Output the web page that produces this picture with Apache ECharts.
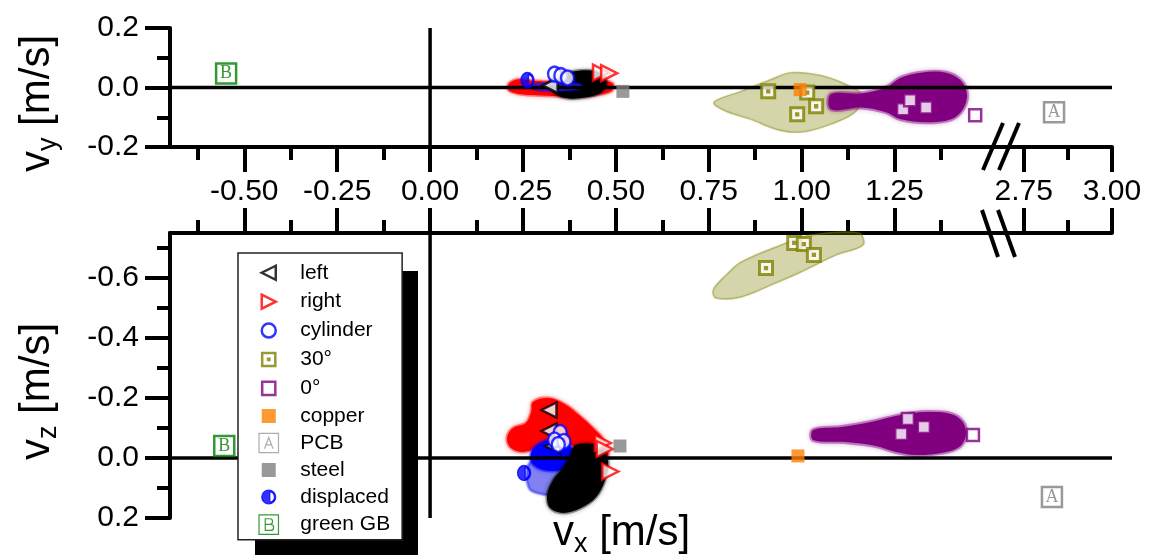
<!DOCTYPE html>
<html>
<head>
<meta charset="utf-8">
<script src="https://cdn.jsdelivr.net/npm/echarts@6/dist/echarts.min.js"></script>
<style>
  html, body { margin: 0; background: #fff; }
  #chart { width: 1159px; height: 558px; }
</style>
</head>
<body>
<div id="chart"></div>
<script>
// ticks
const xMajorLeft = [-0.5, -0.25, 0, 0.25, 0.5, 0.75, 1.0, 1.25];
const xMinorLeft = [-0.625, -0.375, -0.125, 0.125, 0.375, 0.625, 0.875, 1.125, 1.375];
const xMajorRight = [2.75, 3.0];
const xMinorRight = [2.875];
const vyMajor = [-0.2, 0, 0.2];
const vyMinor = [-0.1, 0.1];
const vzMajor = [-0.6, -0.4, -0.2, 0, 0.2];
const vzMinor = [-0.7, -0.5, -0.3, -0.1, 0.1];

// markers, top panel [vx, vy]
const leftVy = [[0.323, 0.007]];
const rightVy = [[0.46, 0.05], [0.482, 0.048]];
const cylinderVy = [[0.335, 0.045], [0.352, 0.04], [0.37, 0.032]];
const deg30Vy = [[0.91, -0.013], [1.015, -0.017], [1.039, -0.063], [0.988, -0.09]];
const deg0Vy = [[1.273, -0.073], [1.292, -0.043], [1.335, -0.067], [1.467, -0.093]];
const copperVy = [[0.996, -0.007]];
const pcbVy = [[2.836, -0.083]];
const steelVy = [[0.519, -0.013]];
const displacedVy = [[0.262, 0.025]];
const greenVy = [[-0.549, 0.047]];

// markers, bottom panel [vx, vz]
const leftVz = [[0.32, -0.16], [0.32, -0.09], [0.33, -0.04]];
const rightVz = [[0.465, -0.05], [0.47, -0.03], [0.485, 0.045]];
const cylinderVz = [[0.35, -0.085], [0.335, -0.06], [0.36, -0.055], [0.345, -0.045]];
const deg30Vz = [[0.98, -0.717], [1.006, -0.713], [1.033, -0.677], [0.904, -0.633]];
const deg0Vz = [[1.286, -0.13], [1.329, -0.103], [1.268, -0.08], [1.461, -0.077]];
const copperVz = [[0.99, -0.007]];
const pcbVz = [[2.83, 0.13]];
const steelVz = [[0.511, -0.04]];
const displacedVz = [[0.253, 0.05]];
const greenVz = [[-0.554, -0.04]];

// measurement clouds (outlines), top panel
const oliveCloudVy = [[0.764, -0.05], [0.837, -0.013], [0.918, 0.027], [0.971, 0.05], [1.052, 0.04], [1.119, 0.01], [1.16, -0.023],
  [1.146, -0.08], [1.079, -0.123], [0.998, -0.15], [0.931, -0.14], [0.864, -0.107], [0.797, -0.08]];
const purpleCloudVy = [[1.079, -0.023], [1.16, -0.02], [1.227, 0], [1.267, 0.033], [1.321, 0.05], [1.389, 0.05], [1.429, 0.023],
  [1.445, -0.023], [1.434, -0.073], [1.402, -0.107], [1.335, -0.117], [1.267, -0.107], [1.227, -0.083], [1.16, -0.067], [1.079, -0.073]];
const redCloudVy = [[0.212, 0.013], [0.235, 0.027], [0.258, 0.025], [0.312, 0.02], [0.379, 0.022], [0.447, 0.027], [0.492, 0.013],
  [0.487, -0.013], [0.433, -0.027], [0.366, -0.03], [0.299, -0.027], [0.245, -0.023], [0.212, -0.01]];
const blackCloudVy = [[0.32, 0.013], [0.342, 0.04], [0.379, 0.053], [0.433, 0.057], [0.468, 0.04], [0.474, 0.007],
  [0.455, -0.02], [0.42, -0.033], [0.374, -0.037], [0.339, -0.023]];
const blueCloudVy = [[0.272, 0.01], [0.339, 0.017], [0.401, 0.013], [0.412, 0], [0.379, -0.01], [0.312, -0.012], [0.27, -0.003]];

// measurement clouds (outlines), bottom panel
const oliveCloudVz = [[0.762, -0.56], [0.797, -0.61], [0.837, -0.653], [0.945, -0.71], [1.025, -0.743], [1.154, -0.75], [1.165, -0.71],
  [1.093, -0.677], [0.998, -0.62], [0.918, -0.577], [0.837, -0.537], [0.77, -0.533]];
const purpleCloudVz = [[1.031, -0.093], [1.106, -0.103], [1.187, -0.12], [1.267, -0.143], [1.335, -0.153], [1.402, -0.147], [1.434, -0.12],
  [1.442, -0.077], [1.424, -0.037], [1.375, -0.017], [1.308, -0.01], [1.254, -0.02], [1.2, -0.04], [1.119, -0.053], [1.031, -0.06]];
const redCloudVz = [[0.277, -0.187], [0.32, -0.2], [0.366, -0.177], [0.401, -0.143], [0.439, -0.1], [0.468, -0.06], [0.479, -0.01],
  [0.452, 0], [0.42, -0.02], [0.379, -0.043], [0.339, -0.06], [0.312, -0.053], [0.285, -0.033], [0.25, -0.02], [0.218, -0.033],
  [0.207, -0.067], [0.223, -0.1], [0.258, -0.117], [0.272, -0.153]];
const blueCloudVz = [[0.285, -0.04], [0.318, -0.06], [0.358, -0.053], [0.385, -0.027], [0.385, 0.017], [0.353, 0.04],
  [0.304, 0.04], [0.274, 0.017], [0.272, -0.017]];
const blueLightCloudVz = [[0.272, 0.013], [0.393, 0.007], [0.385, 0.073], [0.366, 0.123], [0.312, 0.123], [0.266, 0.1]];
const blackCloudVz = [[0.393, -0.043], [0.46, -0.037], [0.479, 0.013], [0.471, 0.073], [0.447, 0.13], [0.406, 0.167],
  [0.358, 0.183], [0.323, 0.167], [0.315, 0.123], [0.331, 0.073], [0.353, 0.04], [0.374, 0]];

const FONT = 'Liberation Sans, Arial, sans-serif';
const BLACK = '#000';

const triLeft = 'M10,0L0,5L10,10Z';
const triRight = 'M0,0L10,5L0,10Z';
const circ = 'M5,0A5,5 0 1,1 5,10A5,5 0 1,1 5,0Z';
const sq = 'M0,0H10V10H0Z';
const sqDot = 'M0,0H10V10H0Z M4.5,4.5H5.5V5.5H4.5Z';
const halfCirc = 'M5,0A5,5 0 1,1 5,10A5,5 0 1,1 5,0Z M5.8,1.4L5.8,8.6A3.3,3.6 0 0,0 5.8,1.4Z';
const sqA = 'M0,0H10V10H0Z M2.8,8L5,2.2L7.2,8 M3.6,6H6.4';
const sqB = 'M0,0H10V10H0Z M3.2,2H5.6C7.4,2 7.4,4.9 5.6,4.9H3.2Z M3.2,4.9H6C8,4.9 8,8 6,8H3.2Z';

function icon(p, s) {
  return 'path://M' + (-s) + ',' + (-s) + 'M' + (10 + s) + ',' + (10 + s) + p;
}

const looks = {
  left: { symbol: 'path://' + triLeft, symbolSize: 15, itemStyle: { color: '#fff', borderColor: BLACK, borderWidth: 2.5 } },
  right: { symbol: 'path://' + triRight, symbolSize: 16, itemStyle: { color: '#fff', borderColor: '#ff0000', borderWidth: 2.5 } },
  cylinder: { symbol: 'path://' + circ, symbolSize: [13, 15], itemStyle: { color: '#fff', borderColor: '#0000ff', borderWidth: 2.5 } },
  '30°': { symbol: 'path://' + sqDot, symbolSize: 13, itemStyle: { color: '#fff', borderColor: '#808000', borderWidth: 3 } },
  '0°': { symbol: 'path://' + sq, symbolSize: 12, itemStyle: { color: '#fff', borderColor: '#800080', borderWidth: 2.5 } },
  copper: { symbol: 'rect', symbolSize: 13, itemStyle: { color: '#ff8000' } },
  PCB: { symbol: 'rect', symbolSize: 20, itemStyle: { color: '#fff', borderColor: '#808080', borderWidth: 2.5 },
    label: { show: true, position: 'inside', formatter: 'A', color: '#808080', fontFamily: 'Liberation Serif, serif', fontSize: 18 } },
  steel: { symbol: 'rect', symbolSize: 13, itemStyle: { color: '#808080' } },
  displaced: { symbol: 'path://' + halfCirc, symbolSize: [13, 15], itemStyle: { color: '#0000ff', borderColor: '#0000ff', borderWidth: 1.5 } },
  'green GB': { symbol: 'rect', symbolSize: 20, itemStyle: { color: '#fff', borderColor: '#008000', borderWidth: 2.5 },
    label: { show: true, position: 'inside', formatter: 'B', color: '#008000', fontFamily: 'Liberation Serif, serif', fontSize: 18 } }
};

function marker(name, data, xi, yi) {
  return Object.assign({ type: 'scatter', name: name, data: data, xAxisIndex: xi, yAxisIndex: yi, z: 5, silent: true }, looks[name]);
}

// filled outline of a scatter cloud, soft edge like the overlapping markers
function cloud(pts, xi, yi, fill, stroke, lw, blur) {
  return {
    type: 'custom', name: 'cloud', xAxisIndex: xi, yAxisIndex: yi, z: 2, silent: true,
    data: pts,
    renderItem: function (params, api) {
      if (params.dataIndex !== 0) return null;
      return {
        type: 'polygon',
        shape: { points: pts.map(function (p) { return api.coord(p); }), smooth: 0.35 },
        style: { fill: fill, stroke: stroke, lineWidth: lw, shadowBlur: blur || 0, shadowColor: stroke }
      };
    }
  };
}

function zeroLine(data, xi, yi) {
  return {
    type: 'line', name: 'zero', data: data, xAxisIndex: xi, yAxisIndex: yi, z: 3, silent: true,
    symbol: 'none', lineStyle: { color: BLACK, width: 3.5 }
  };
}

const axisLineStyle = { color: BLACK, width: 4 };

function xAxisPair(grid, min, max, major, minor, pos, labels) {
  return [
    {
      type: 'value', gridIndex: grid, min: min, max: max, position: pos,
      axisLine: { show: true, onZero: false, lineStyle: axisLineStyle },
      axisTick: { show: true, customValues: major, length: 25, lineStyle: axisLineStyle },
      axisLabel: { show: labels, customValues: major, margin: 30, fontSize: 30, fontFamily: FONT, color: BLACK,
        formatter: function (v) { return v.toFixed(2); } },
      splitLine: { show: false }
    },
    {
      type: 'value', gridIndex: grid, min: min, max: max, position: pos,
      axisLine: { show: false, onZero: false },
      axisTick: { show: true, customValues: minor, length: 13, lineStyle: axisLineStyle },
      axisLabel: { show: false },
      splitLine: { show: false }
    }
  ];
}

function yAxisPair(grid, min, max, major, minor, inverse, name) {
  return [
    {
      type: 'value', gridIndex: grid, min: min, max: max, inverse: inverse, position: 'left',
      axisLine: { show: true, onZero: false, lineStyle: axisLineStyle },
      axisTick: { show: true, customValues: major, length: 25, lineStyle: axisLineStyle },
      axisLabel: { show: true, customValues: major, margin: 31, fontSize: 30, fontFamily: FONT, color: BLACK,
        formatter: function (v) { return v.toFixed(1); } },
      splitLine: { show: false },
      name: name, nameLocation: 'middle', nameRotate: 90, nameGap: 108,
      nameTextStyle: {
        color: BLACK, fontFamily: FONT, padding: [0, 32, 0, 0],
        rich: {
          a: { fontSize: 42, fontFamily: FONT, color: BLACK, lineHeight: 50 },
          b: { fontSize: 27, fontFamily: FONT, color: BLACK, lineHeight: 25, verticalAlign: 'bottom' }
        }
      }
    },
    {
      type: 'value', gridIndex: grid, min: min, max: max, inverse: inverse, position: 'left',
      axisLine: { show: false, onZero: false },
      axisTick: { show: true, customValues: minor, length: 13, lineStyle: axisLineStyle },
      axisLabel: { show: false },
      splitLine: { show: false }
    }
  ];
}

const hiddenY = function (grid, min, max, inverse) {
  return { type: 'value', gridIndex: grid, min: min, max: max, inverse: inverse, show: false, splitLine: { show: false } };
};

const xAxes = [].concat(
  xAxisPair(0, -0.7, 1.55, xMajorLeft, xMinorLeft, 'bottom', true),
  xAxisPair(1, 2.7, 3.0, xMajorRight, xMinorRight, 'bottom', true),
  xAxisPair(2, -0.7, 1.55, xMajorLeft, xMinorLeft, 'top', false),
  xAxisPair(3, 2.7, 3.0, xMajorRight, xMinorRight, 'top', false)
);
const yAxes = [].concat(
  yAxisPair(0, -0.2, 0.2, vyMajor, vyMinor, false, '{a|v}{b|y}{a| [m/s]}'),
  [hiddenY(1, -0.2, 0.2, false)],
  yAxisPair(2, -0.75, 0.2, vzMajor, vzMinor, true, '{a|v}{b|z}{a| [m/s]}'),
  [hiddenY(3, -0.75, 0.2, true)]
);
// axis indices: top-left x0/y0, top-right x2/y2, bottom-left x4/y3, bottom-right x6/y5

const series = [
  cloud(oliveCloudVy, 0, 0, 'rgba(128,128,0,0.25)', 'rgba(128,128,0,0.4)', 1.5, 2),
  cloud(purpleCloudVy, 0, 0, '#800080', 'rgba(128,0,128,0.4)', 4, 5),
  cloud(redCloudVy, 0, 0, '#ff0000', 'rgba(255,0,0,0.4)', 3, 4),
  cloud(blackCloudVy, 0, 0, '#000', 'rgba(0,0,0,0.35)', 3, 4),
  cloud(blueCloudVy, 0, 0, 'rgba(40,40,220,0.75)', 'rgba(0,0,255,0.3)', 2, 2),
  cloud(oliveCloudVz, 4, 3, 'rgba(128,128,0,0.25)', 'rgba(128,128,0,0.4)', 1.5, 2),
  cloud(purpleCloudVz, 4, 3, '#800080', 'rgba(128,0,128,0.4)', 4, 5),
  cloud(redCloudVz, 4, 3, '#ff0000', 'rgba(255,0,0,0.4)', 3, 5),
  cloud(blueLightCloudVz, 4, 3, 'rgba(60,60,230,0.55)', 'rgba(0,0,255,0.3)', 3, 3),
  cloud(blueCloudVz, 4, 3, '#0000ff', 'rgba(0,0,255,0.4)', 3, 4),
  cloud(blackCloudVz, 4, 3, '#000', 'rgba(0,0,0,0.35)', 3, 5),

  zeroLine([[-0.7, 0], [1.55, 0]], 0, 0),
  zeroLine([[0, -0.2], [0, 0.2]], 0, 0),
  zeroLine([[2.7, 0], [3.0, 0]], 2, 2),
  zeroLine([[-0.7, 0], [1.55, 0]], 4, 3),
  zeroLine([[0, -0.75], [0, 0.2]], 4, 3),
  zeroLine([[2.7, 0], [3.0, 0]], 6, 5),

  marker('left', leftVy, 0, 0), marker('left', leftVz, 4, 3),
  marker('right', rightVy, 0, 0), marker('right', rightVz, 4, 3),
  marker('cylinder', cylinderVy, 0, 0), marker('cylinder', cylinderVz, 4, 3),
  marker('30°', deg30Vy, 0, 0), marker('30°', deg30Vz, 4, 3),
  marker('0°', deg0Vy, 0, 0), marker('0°', deg0Vz, 4, 3),
  marker('copper', copperVy, 0, 0), marker('copper', copperVz, 4, 3),
  marker('PCB', pcbVy, 2, 2), marker('PCB', pcbVz, 6, 5),
  marker('steel', steelVy, 0, 0), marker('steel', steelVz, 4, 3),
  marker('displaced', displacedVy, 0, 0), marker('displaced', displacedVz, 4, 3),
  marker('green GB', greenVy, 0, 0), marker('green GB', greenVz, 4, 3)
];

const chart = echarts.init(document.getElementById('chart'));
chart.setOption({
  animation: false,
  backgroundColor: '#fff',
  grid: [
    { left: 170, top: 28, width: 836, height: 119 },
    { left: 1006, top: 28, width: 106, height: 119 },
    { left: 170, top: 233, width: 836, height: 285 },
    { left: 1006, top: 233, width: 106, height: 285 }
  ],
  xAxis: xAxes,
  yAxis: yAxes,
  legend: {
    orient: 'vertical', left: 238, top: 253, z: 10,
    itemWidth: 47, itemHeight: 21, itemGap: 5.4, padding: [8, 12, 4, 19],
    backgroundColor: '#fff', borderColor: '#222', borderWidth: 1.5,
    selectedMode: false,
    textStyle: { fontSize: 21, lineHeight: 21, fontFamily: FONT, color: BLACK, padding: [0, 0, 0, 3] },
    data: [
      { name: 'left', icon: icon(triLeft, 2.5), itemStyle: { color: '#fff', borderColor: BLACK, borderWidth: 2.5 } },
      { name: 'right', icon: icon(triRight, 2.5), itemStyle: { color: '#fff', borderColor: '#ff0000', borderWidth: 2.5 } },
      { name: 'cylinder', icon: icon(circ, 2.5), itemStyle: { color: '#fff', borderColor: '#0000ff', borderWidth: 2.5 } },
      { name: '30°', icon: icon(sqDot, 3), itemStyle: { color: '#fff', borderColor: '#808000', borderWidth: 2.5 } },
      { name: '0°', icon: icon(sq, 3), itemStyle: { color: '#fff', borderColor: '#800080', borderWidth: 2.5 } },
      { name: 'copper', icon: icon(sq, 2.5), itemStyle: { color: '#ff8000', borderWidth: 0 } },
      { name: 'PCB', icon: icon(sqA, 0.4), itemStyle: { color: '#fff', borderColor: '#999', borderWidth: 1.2 } },
      { name: 'steel', icon: icon(sq, 2.5), itemStyle: { color: '#808080', borderWidth: 0 } },
      { name: 'displaced', icon: icon(halfCirc, 2.5), itemStyle: { color: '#0000ff', borderColor: '#0000ff', borderWidth: 1.2 } },
      { name: 'green GB', icon: icon(sqB, 0.4), itemStyle: { color: '#fff', borderColor: '#008000', borderWidth: 1.2 } }
    ]
  },
  graphic: [
    // legend shadow
    { type: 'rect', z: 9, silent: true, shape: { x: 255, y: 271, width: 163, height: 284 }, style: { fill: BLACK } },
    // axis break marks
    { type: 'line', z: 9, silent: true, shape: { x1: 983, y1: 170, x2: 1003, y2: 123 }, style: { stroke: BLACK, lineWidth: 4 } },
    { type: 'line', z: 9, silent: true, shape: { x1: 999, y1: 170, x2: 1019, y2: 123 }, style: { stroke: BLACK, lineWidth: 4 } },
    { type: 'line', z: 9, silent: true, shape: { x1: 982, y1: 210, x2: 998, y2: 257 }, style: { stroke: BLACK, lineWidth: 4 } },
    { type: 'line', z: 9, silent: true, shape: { x1: 998, y1: 210, x2: 1015, y2: 257 }, style: { stroke: BLACK, lineWidth: 4 } },
    // x axis title
    {
      type: 'text', z: 9, silent: true, x: 553, y: 508,
      style: {
        text: '{a|v}{b|x}{a| [m/s]}', align: 'left', verticalAlign: 'top', fill: BLACK,
        rich: {
          a: { fontSize: 42, fontFamily: FONT, fill: BLACK, lineHeight: 50 },
          b: { fontSize: 27, fontFamily: FONT, fill: BLACK, lineHeight: 25, verticalAlign: 'bottom' }
        }
      }
    }
  ],
  series: series
});
</script>
</body>
</html>
